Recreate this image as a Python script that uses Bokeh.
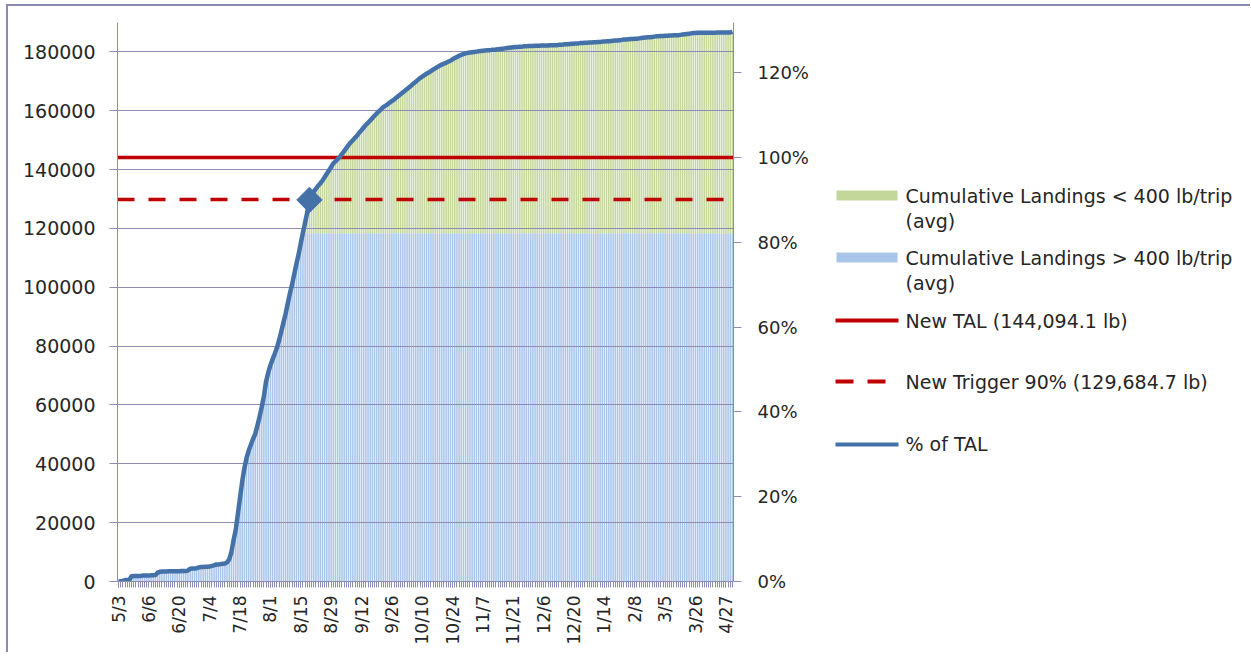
import math
from bokeh.plotting import figure
from bokeh.models import Range1d, LinearAxis, FixedTicker, NumeralTickFormatter
from bokeh.layouts import row
from bokeh.embed import file_html
from bokeh.resources import INLINE
from bokeh.core.properties import value

# ---------------- data ----------------
tick_labels = ["5/3", "6/6", "6/20", "7/4", "7/18", "8/1", "8/15", "8/29", "9/12",
               "9/26", "10/10", "10/24", "11/7", "11/21", "12/6", "12/20", "1/14",
               "2/8", "3/5", "3/26", "4/27"]
LABEL_EVERY = 14                 # one labelled date every 14 categories
TAL = 144094.1                   # New TAL (lb)
TRIGGER = 129684.7               # New Trigger 90% (lb)
GT400_FINAL = 118400             # cumulative landings > 400 lb/trip once it stops growing

# cumulative landings (lb), one value per category (date), 14 per row
cum_total = [
    0, 100, 200, 500, 500, 600, 1800, 1900, 1900, 1900, 1900, 2000, 2000, 2000,
    2000, 2100, 2100, 2200, 3000, 3300, 3400, 3400, 3400, 3500, 3500, 3500, 3500, 3500,
    3500, 3600, 3600, 3600, 3700, 4300, 4400, 4400, 4500, 4800, 4900, 4900, 5000, 5000,
    5100, 5300, 5500, 5800, 5800, 5900, 6000, 6100, 6500, 7500, 10000, 14000, 17500, 23000,
    28500, 34000, 38500, 42000, 44500, 46500, 48500, 50200, 53000, 56000, 59300, 63000, 68000, 71000,
    73500, 75500, 77400, 79500, 82000, 85000, 88000, 91000, 94500, 98000, 101000, 104500, 108000, 111200,
    115000, 118600, 122000, 125500, 129700, 131200, 132500, 133500, 134500, 135300, 136300, 137400, 138600, 139700,
    140900, 142100, 142800, 143600, 144300, 145300, 146300, 147300, 148300, 149200, 150000, 150800, 151600, 152600,
    153400, 154300, 155200, 155900, 156700, 157500, 158300, 159100, 159800, 160500, 161200, 161700, 162200, 162800,
    163300, 163800, 164400, 165000, 165600, 166200, 166800, 167400, 168000, 168600, 169300, 169900, 170500, 171100,
    171600, 172100, 172600, 173000, 173500, 174000, 174400, 174900, 175300, 175700, 176000, 176300, 176700, 177000,
    177500, 177900, 178300, 178700, 179000, 179300, 179500, 179700, 179800, 179900, 180000, 180100, 180200, 180300,
    180400, 180500, 180600, 180600, 180700, 180700, 180800, 180900, 181000, 181100, 181200, 181300, 181400, 181500,
    181600, 181700, 181700, 181800, 181800, 181900, 181900, 182000, 182000, 182000, 182100, 182100, 182100, 182200,
    182200, 182200, 182200, 182300, 182300, 182300, 182300, 182400, 182400, 182500, 182600, 182600, 182700, 182800,
    182800, 182900, 182900, 183000, 183000, 183100, 183100, 183200, 183200, 183300, 183300, 183400, 183400, 183500,
    183500, 183600, 183600, 183700, 183800, 183900, 183900, 184000, 184100, 184200, 184200, 184300, 184400, 184400,
    184500, 184500, 184600, 184700, 184800, 184900, 185000, 185000, 185100, 185200, 185300, 185300, 185400, 185400,
    185500, 185500, 185600, 185600, 185700, 185700, 185700, 185800, 185900, 186000, 186100, 186200, 186300, 186400,
    186400, 186500, 186500, 186500, 186500, 186500, 186500, 186500, 186500, 186500, 186600, 186600, 186600, 186600,
    186600, 186600, 186600, 186900,
]
left_ticks = [0, 20000, 40000, 60000, 80000, 100000, 120000, 140000, 160000, 180000]
pct_ticks = [0, 0.2, 0.4, 0.6, 0.8, 1.0, 1.2]
Y_MAX = 190000

# ---------------- derived ----------------
N = len(cum_total)
idx = list(range(N))
gt400 = [min(v, GT400_FINAL) for v in cum_total]
pct = [v / TAL for v in cum_total]
hit = next(i for i, v in enumerate(cum_total) if v >= TRIGGER)
label_pos = [i * LABEL_EVERY for i in range(len(tick_labels))]

FONT_NAME = "DejaVu Sans"
FONT = value(FONT_NAME)
TXT = "#262626"
AX = "#8C8CB4"
BORDER = "#8A8AAE"
BLUE_LINE = "#4472A8"
GREEN = "#C4D79B"
BLUEBAR = "#A9C5EA"
RED = "#C00000"

p = figure(width=825, height=646, x_range=Range1d(-0.5, N - 0.5), y_range=Range1d(0, Y_MAX),
           output_backend="svg", toolbar_location=None,
           min_border_left=109, min_border_right=100, min_border_top=16, min_border_bottom=71)
p.outline_line_color = None
p.xgrid.visible = False
p.ygrid.visible = False
p.extra_y_ranges = {"pct": Range1d(0, Y_MAX / TAL)}

p.vbar(x=idx, bottom=0, top=gt400, width=0.72, fill_color=BLUEBAR, line_color=None)
p.vbar(x=idx, bottom=gt400, top=cum_total, width=0.72, fill_color=GREEN, line_color=None)

p.hspan(y=left_ticks[1:], line_color=AX, line_width=1)
p.hspan(y=[TAL], line_color=RED, line_width=3.5)
p.hspan(y=[TRIGGER], line_color=RED, line_width=3.5, line_dash="17 14")

p.line(idx, pct, y_range_name="pct", line_color=BLUE_LINE, line_width=4.5, line_join="round")
p.scatter([hit], [pct[hit]], y_range_name="pct", marker="square", angle=math.pi / 4,
          size=18, fill_color=BLUE_LINE, line_color=BLUE_LINE)

yl = p.yaxis[0]
yl.ticker = FixedTicker(ticks=left_ticks)
yl.formatter = NumeralTickFormatter(format="0")
yl.major_label_standoff = 14

yr = LinearAxis(y_range_name="pct", ticker=FixedTicker(ticks=pct_ticks),
                formatter=NumeralTickFormatter(format="0%"))
p.add_layout(yr, "right")
yr.major_label_standoff = 16

xa = p.xaxis[0]
xa.ticker = FixedTicker(ticks=label_pos, minor_ticks=idx)
xa.major_label_overrides = {pos: lab for pos, lab in zip(label_pos, tick_labels)}
xa.major_label_orientation = math.pi / 2
xa.major_label_standoff = 8
xa.minor_tick_out = 6
xa.minor_tick_in = 0
xa.minor_tick_line_color = AX
xa.major_label_text_font_size = "17px"

for ax in (yl, yr, xa):
    ax.axis_line_color = AX
    ax.major_tick_line_color = AX
    ax.major_tick_in = 0
    ax.major_tick_out = 8 if ax is not xa else 6
    ax.major_label_text_font = FONT_NAME
    ax.major_label_text_color = TXT
for ax in (yl, yr):
    ax.minor_tick_line_color = None
yl.major_label_text_font_size = "19px"
yr.major_label_text_font_size = "18px"

# ---------------- legend panel ----------------
# its frame is aligned with the main frame (page y 22..581), so the range is set in page pixels
lg = figure(width=417, height=646, x_range=Range1d(0, 417), y_range=Range1d(581, 22),
            output_backend="svg", toolbar_location=None, min_border=0,
            x_axis_location=None, y_axis_location=None)
lg.outline_line_color = None
lg.xgrid.visible = False
lg.ygrid.visible = False

lg.quad(left=[3], right=[64], top=[190], bottom=[200], fill_color=GREEN, line_color=None)
lg.quad(left=[3], right=[64], top=[252], bottom=[262], fill_color=BLUEBAR, line_color=None)
lg.line([2, 65], [320, 320], line_color=RED, line_width=4)
lg.line([2, 65], [381, 381], line_color=RED, line_width=4, line_dash="18 14")
lg.line([2, 65], [444, 444], line_color=BLUE_LINE, line_width=4)

leg_texts = ["Cumulative Landings < 400 lb/trip", "(avg)",
             "Cumulative Landings > 400 lb/trip", "(avg)",
             "New TAL (144,094.1 lb)", "New Trigger 90% (129,684.7 lb)", "% of TAL"]
leg_y = [195, 220, 257, 282, 320, 381, 443]
lg.text(x=[72] * len(leg_texts), y=leg_y, text=leg_texts, text_font=FONT,
        text_font_size="19px", text_baseline="middle", text_color=TXT)

layout = row(p, lg)
layout.styles = {"border-top": f"2px solid {BORDER}", "border-left": f"2px solid {BORDER}",
                 "margin-left": "6px", "margin-top": "4px"}
open("out.html", "w").write(file_html(layout, INLINE))
